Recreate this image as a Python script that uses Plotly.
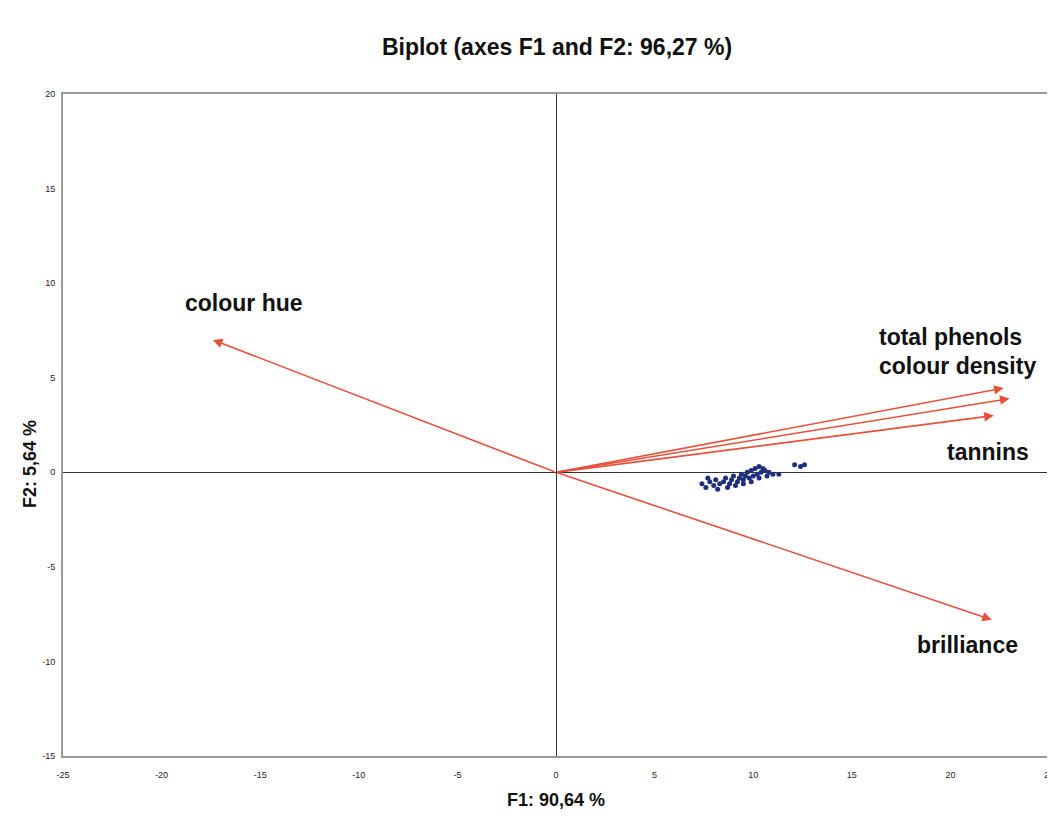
import plotly.graph_objects as go

# Variable vectors (loadings scaled) in F1/F2 space
var_names = ["colour hue", "total phenols", "colour density", "tannins", "brilliance"]
var_f1 = [-17.4, 22.7, 23.0, 22.2, 22.1]
var_f2 = [7.0, 4.45, 3.9, 3.0, -7.8]

# Observations
obs_f1 = [7.4, 7.6, 7.8, 8.0, 8.1, 8.3, 8.5, 8.6, 8.8, 8.9, 9.0, 9.2, 9.3, 9.4, 9.5,
          9.6, 9.7, 9.8, 9.9, 10.0, 10.1, 10.2, 10.3, 10.4, 10.5, 10.6, 10.8, 11.0,
          7.7, 8.2, 8.7, 9.1, 9.5, 9.9, 10.3, 10.7, 11.3, 12.1, 12.4, 12.6]
obs_f2 = [-0.6, -0.8, -0.5, -0.7, -0.4, -0.6, -0.5, -0.3, -0.6, -0.4, -0.2, -0.5, -0.3,
          -0.1, -0.4, -0.2, 0.0, -0.3, 0.1, -0.2, 0.2, -0.1, 0.3, 0.0, 0.2, 0.1, 0.0,
          -0.1, -0.3, -0.9, -0.8, -0.7, -0.6, -0.5, -0.3, -0.2, -0.1, 0.4, 0.3, 0.4]

x_ticks = [-25, -20, -15, -10, -5, 0, 5, 10, 15, 20, 25]
y_ticks = [-15, -10, -5, 0, 5, 10, 15, 20]

title = "Biplot (axes F1 and F2: 96,27 %)"
x_title = "F1: 90,64 %"
y_title = "F2: 5,64 %"

arrow_color = "#e8503c"
FONT = "Liberation Sans, Arial, sans-serif"

# page has an 8px body margin; compensate so the plot lands where the reference has it
W, H = 1047, 810

fig = go.Figure()

fig.add_trace(go.Scatter(
    x=obs_f1, y=obs_f2, mode="markers",
    marker=dict(color="#1f2f7a", size=5, symbol="circle"),
    showlegend=False, hoverinfo="skip"))

# Arrows
for name, fx, fy in zip(var_names, var_f1, var_f2):
    fig.add_annotation(
        x=fx, y=fy, ax=0, ay=0, xref="x", yref="y", axref="x", ayref="y",
        text="", showarrow=True, arrowhead=2, arrowsize=1.2, arrowwidth=1.6,
        arrowcolor=arrow_color)

# Labels
label_font = dict(family=FONT, size=23, color="#111111")
label_pos = {
    "colour hue": (-18.9, 8.94),
    "total phenols": (16.28, 7.14),
    "colour density": (16.28, 5.6),
    "tannins": (19.73, 1.06),
    "brilliance": (18.2, -9.15),
}
for name in var_names:
    lx, ly = label_pos[name]
    fig.add_annotation(x=lx, y=ly, xref="x", yref="y", text="<b>%s</b>" % name,
                       showarrow=False, xanchor="left", yanchor="middle", font=label_font)

fig.update_layout(
    width=W, height=H,
    margin=dict(l=55, r=6, t=86, b=62, autoexpand=False),
    paper_bgcolor="white", plot_bgcolor="white",
    title=dict(text="<b>%s</b>" % title, x=(557 - 8) / W, xanchor="center", y=1 - 39 / H,
               yanchor="middle", xref="container", yref="container",
               font=dict(family=FONT, size=23, color="#111111")),
    showlegend=False,
)

fig.update_xaxes(
    range=[-25, 25], tickvals=x_ticks, ticktext=[str(v) for v in x_ticks],
    showgrid=False, zeroline=True, zerolinecolor="#333333", zerolinewidth=1.2,
    showline=True, linecolor="#999999", linewidth=2, mirror=True, automargin=False,
    ticks="outside", ticklen=9, tickcolor="rgba(0,0,0,0)",
    tickfont=dict(family=FONT, size=9, color="#222222"),
)
fig.update_yaxes(
    range=[-15, 20], tickvals=y_ticks, ticktext=[str(v) for v in y_ticks],
    showgrid=False, zeroline=True, zerolinecolor="#333333", zerolinewidth=1.2,
    showline=True, linecolor="#999999", linewidth=2, mirror=True, automargin=False,
    ticks="outside", ticklen=4, tickcolor="rgba(0,0,0,0)",
    tickfont=dict(family=FONT, size=9, color="#222222"),
)

# Axis titles
fig.add_annotation(x=0.5, y=-44 / 662, xref="paper", yref="paper", text="<b>%s</b>" % x_title,
                   showarrow=False, xanchor="center", yanchor="middle",
                   font=dict(family=FONT, size=18, color="#111111"))
fig.add_annotation(x=-33 / 986, y=(756 - 464) / 662, xref="paper", yref="paper", text="<b>%s</b>" % y_title,
                   showarrow=False, xanchor="center", yanchor="middle", textangle=-90,
                   font=dict(family=FONT, size=18, color="#111111"))

fig.write_html("out.html")
